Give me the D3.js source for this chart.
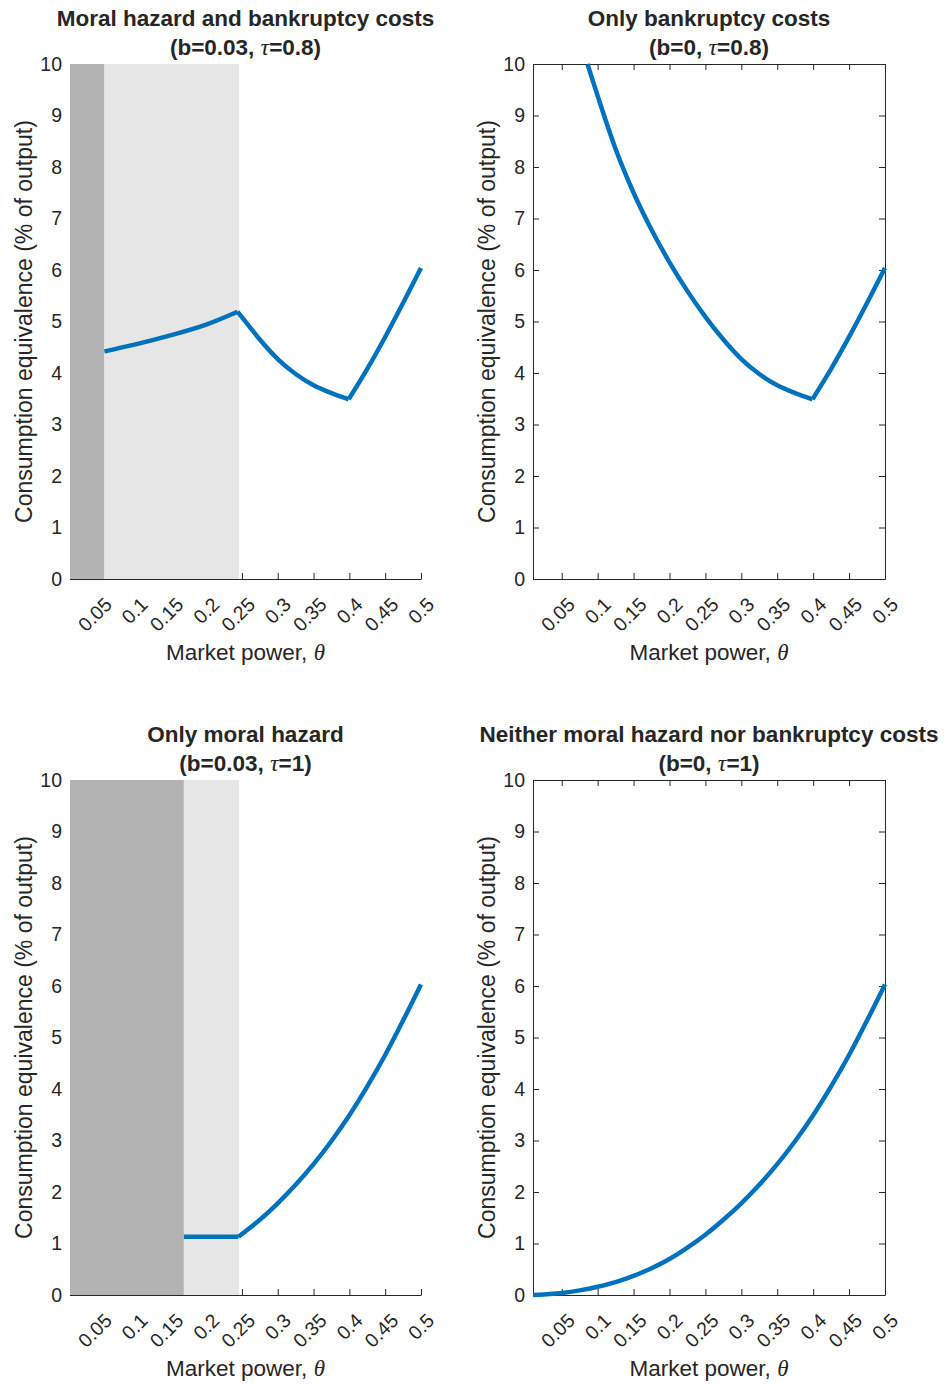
<!DOCTYPE html>
<html>
<head>
<meta charset="utf-8">
<script src="https://cdn.jsdelivr.net/npm/d3@7"></script>
<style>
  body { margin: 0; background: #fff; }
  text { font-family: "Liberation Sans", Arial, Helvetica, sans-serif; fill: #262626; }
  .greek { font-family: "Liberation Serif", "Times New Roman", serif; font-style: italic; font-weight: normal; }
</style>
</head>
<body>
<script>
/* Welfare cost vs market power, four cases */

// shared axes
const xTicks = [0.05, 0.1, 0.15, 0.2, 0.25, 0.3, 0.35, 0.4, 0.45, 0.5];
const xTickLabels = ["0.05", "0.1", "0.15", "0.2", "0.25", "0.3", "0.35", "0.4", "0.45", "0.5"];
const yTicks = [0, 1, 2, 3, 4, 5, 6, 7, 8, 9, 10];
const xDomain = [0.01, 0.5];
const yDomain = [0, 10];

// panel 1: moral hazard and bankruptcy costs (b=0.03, tau=0.8)
const thetaMHBC = [0.058, 0.1, 0.15, 0.2, 0.244, 0.26, 0.275, 0.3, 0.325, 0.35, 0.375, 0.399, 0.425, 0.45, 0.475, 0.5];
const ceMHBC    = [4.42, 4.55, 4.73, 4.94, 5.19, 4.91, 4.65, 4.27, 3.98, 3.76, 3.61, 3.49, 4.08, 4.7, 5.36, 6.04];
const kinksMHBC = [0.244, 0.399];
const darkMHBC  = [0.01, 0.058];
const lightMHBC = [0.058, 0.246];

// panel 2: only bankruptcy costs (b=0, tau=0.8)
const thetaBC = [0.0858, 0.1, 0.125, 0.15, 0.175, 0.2, 0.225, 0.25, 0.275, 0.3, 0.325, 0.35, 0.375, 0.399, 0.425, 0.45, 0.475, 0.5];
const ceBC    = [10, 9.38, 8.35, 7.5, 6.78, 6.15, 5.59, 5.09, 4.65, 4.27, 3.98, 3.76, 3.61, 3.49, 4.08, 4.7, 5.36, 6.04];
const kinksBC = [0.399];

// panel 3: only moral hazard (b=0.03, tau=1)
const thetaMH = [0.169, 0.245, 0.26, 0.275, 0.3, 0.325, 0.35, 0.375, 0.4, 0.425, 0.45, 0.475, 0.5];
const ceMH    = [1.13, 1.13, 1.29, 1.46, 1.78, 2.14, 2.54, 2.99, 3.49, 4.05, 4.66, 5.33, 6.03];
const kinksMH = [0.245];
const darkMH  = [0.01, 0.169];
const lightMH = [0.169, 0.246];

// panel 4: neither (b=0, tau=1)
const thetaNone = [0.01, 0.025, 0.05, 0.075, 0.1, 0.125, 0.15, 0.175, 0.2, 0.225, 0.25, 0.275, 0.3, 0.325, 0.35, 0.375, 0.4, 0.425, 0.45, 0.475, 0.5];
const ceNone    = [0, 0.01, 0.04, 0.09, 0.16, 0.25, 0.37, 0.52, 0.7, 0.92, 1.17, 1.46, 1.78, 2.14, 2.54, 2.99, 3.49, 4.05, 4.66, 5.33, 6.03];
const kinksNone = [];

const W = 947, H = 1385;
const svg = d3.select("body").append("svg").attr("width", W).attr("height", H);

const ink = "#262626";
const blue = "#0072BD";

// splits a series at the kinks so the curve keeps its corners
function pieces(xs, ys, kinks) {
    var out = [], cur = [];
    xs.forEach(function(x, i) {
        cur.push([x, ys[i]]);
        if (kinks.indexOf(x) >= 0 && i > 0 && i < xs.length - 1) {
            out.push(cur);
            cur = [[x, ys[i]]];
        }
    });
    out.push(cur);
    return out;
}

function drawPanel(p) {
    var x = d3.scaleLinear().domain(xDomain).range([p.left, p.right]);
    var y = d3.scaleLinear().domain(yDomain).range([p.bottom, p.top]);
    var g = svg.append("g");

    // bottom axis
    var xa = g.append("g").attr("transform", "translate(0," + p.bottom + ")")
        .call(d3.axisBottom(x).tickValues(xTicks).tickSize(-6).tickSizeOuter(0)
            .tickFormat(function(d, i) { return xTickLabels[i]; }));
    xa.selectAll("text")
        .attr("y", null).attr("dy", null)
        .attr("transform", "translate(9,22) rotate(-45)")
        .attr("text-anchor", "end")
        .attr("dominant-baseline", "central")
        .style("font-size", "19.5px");

    // left axis
    var ya = g.append("g").attr("transform", "translate(" + p.left + ",0)")
        .call(d3.axisLeft(y).tickValues(yTicks).tickSize(-6).tickSizeOuter(0).tickPadding(8));
    ya.selectAll("text").style("font-size", "19.5px");

    if (p.box) {
        g.append("g").attr("transform", "translate(0," + p.top + ")")
            .call(d3.axisTop(x).tickValues(xTicks).tickSize(-6).tickSizeOuter(0).tickFormat(""));
        g.append("g").attr("transform", "translate(" + p.right + ",0)")
            .call(d3.axisRight(y).tickValues(yTicks).tickSize(-6).tickSizeOuter(0).tickFormat(""));
    }
    g.selectAll(".domain, .tick line").attr("stroke", ink).attr("stroke-width", 1);
    g.selectAll(".tick text").attr("fill", ink);

    // shaded regions over the axes
    if (p.dark) {
        g.append("rect")
            .attr("x", x(p.dark[0])).attr("width", x(p.dark[1]) - x(p.dark[0]))
            .attr("y", y(10)).attr("height", y(0) - y(10))
            .attr("fill", "#b3b3b3");
        g.append("rect")
            .attr("x", x(p.light[0])).attr("width", x(p.light[1]) - x(p.light[0]))
            .attr("y", y(10)).attr("height", y(0) - y(10))
            .attr("fill", "#e6e6e6");
        g.append("line")
            .attr("x1", p.left).attr("x2", p.right)
            .attr("y1", p.bottom + 0.5).attr("y2", p.bottom + 0.5)
            .attr("stroke", ink).attr("stroke-width", 1);
    }

    // curve
    var line = d3.line()
        .x(function(d) { return x(d[0]); })
        .y(function(d) { return y(d[1]); })
        .curve(d3.curveMonotoneX);
    pieces(p.xs, p.ys, p.kinks).forEach(function(seg) {
        g.append("path")
            .attr("d", line(seg))
            .attr("fill", "none")
            .attr("stroke", blue)
            .attr("stroke-width", 4.5)
            .attr("stroke-linejoin", "round");
    });

    // titles
    var cx = (p.left + p.right) / 2;
    g.append("text").attr("x", cx).attr("y", p.top - 38)
        .attr("text-anchor", "middle").style("font-size", "22.5px").style("font-weight", "bold")
        .text(p.title);
    var t2 = g.append("text").attr("x", cx).attr("y", p.top - 9)
        .attr("text-anchor", "middle").style("font-size", "22.5px").style("font-weight", "bold");
    t2.append("tspan").text(p.sub[0]);
    t2.append("tspan").attr("class", "greek").style("font-size", "24px").text("\u03c4");
    t2.append("tspan").text(p.sub[1]);

    // axis labels
    var xl = g.append("text").attr("x", cx).attr("y", p.bottom + 81)
        .attr("text-anchor", "middle").style("font-size", "22.5px");
    xl.append("tspan").text("Market power, ");
    xl.append("tspan").attr("class", "greek").style("font-size", "23px").text("\u03b8");

    g.append("text")
        .attr("transform", "translate(" + (p.left - 38) + "," + ((p.top + p.bottom) / 2) + ") rotate(-90)")
        .attr("text-anchor", "middle").style("font-size", "23px")
        .text("Consumption equivalence (% of output)");
}

drawPanel({ left: 70, right: 421, top: 64, bottom: 579, box: false,
    title: "Moral hazard and bankruptcy costs", sub: ["(b=0.03, ", "=0.8)"],
    xs: thetaMHBC, ys: ceMHBC, kinks: kinksMHBC, dark: darkMHBC, light: lightMHBC });
drawPanel({ left: 533, right: 885, top: 64, bottom: 579, box: true,
    title: "Only bankruptcy costs", sub: ["(b=0, ", "=0.8)"],
    xs: thetaBC, ys: ceBC, kinks: kinksBC });
drawPanel({ left: 70, right: 421, top: 780, bottom: 1295, box: false,
    title: "Only moral hazard", sub: ["(b=0.03, ", "=1)"],
    xs: thetaMH, ys: ceMH, kinks: kinksMH, dark: darkMH, light: lightMH });
drawPanel({ left: 533, right: 885, top: 780, bottom: 1295, box: true,
    title: "Neither moral hazard nor bankruptcy costs", sub: ["(b=0, ", "=1)"],
    xs: thetaNone, ys: ceNone, kinks: kinksNone });
</script>
</body>
</html>
